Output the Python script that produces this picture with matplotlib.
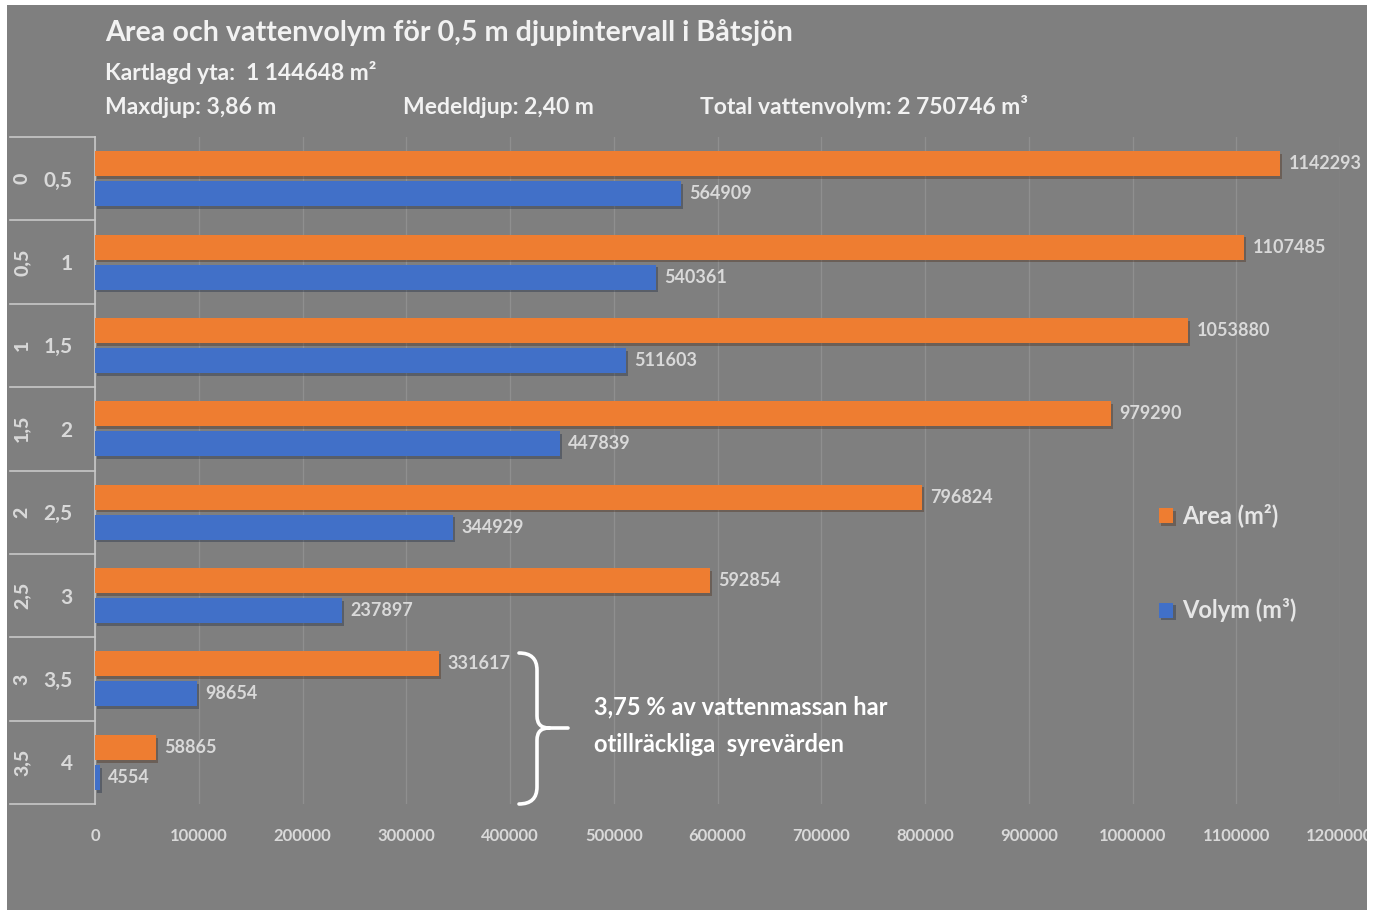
import matplotlib.pyplot as plt
import matplotlib.patheffects as pe
from matplotlib.patches import Rectangle, PathPatch
from matplotlib.path import Path
from matplotlib.lines import Line2D

# data
outer_labels = ['0', '0,5', '1', '1,5', '2', '2,5', '3', '3,5']
inner_labels = ['0,5', '1', '1,5', '2', '2,5', '3', '3,5', '4']
area = [1142293, 1107485, 1053880, 979290, 796824, 592854, 331617, 58865]
volym = [564909, 540361, 511603, 447839, 344929, 237897, 98654, 4554]
xticks = list(range(0, 1200001, 100000))

plt.rcParams['font.family'] = ['Lato', 'DejaVu Sans']

W, H = 1379, 910
BG = '#7f7f7f'
TXT = '#f2f2f2'
LBL = '#d9d9d9'
ORANGE = '#ee7d31'
BLUE = '#4170c8'


def fx(px):
    return px / W


def fy(py):
    return 1 - py / H


fig = plt.figure(figsize=(13.79, 9.10), dpi=100, facecolor='white')
bg = Rectangle((fx(7), 0), fx(1367) - fx(7), fy(5), transform=fig.transFigure,
               facecolor=BG, edgecolor='none', zorder=-5)
fig.patches.append(bg)

ax = fig.add_axes([fx(95), fy(804), fx(1340) - fx(95), (804 - 137) / H])
ax.set_facecolor('none')
ax.set_zorder(2)

idx = list(range(len(area)))
shadow = [pe.SimplePatchShadow(offset=(1.5, -2), alpha=0.35), pe.Normal()]
b1 = ax.barh([i - 0.18 for i in idx], area, height=0.30, color=ORANGE, zorder=3,
             path_effects=shadow, label='Area (m²)')
b2 = ax.barh([i + 0.18 for i in idx], volym, height=0.30, color=BLUE, zorder=3,
             path_effects=shadow, label='Volym (m³)')

ax.bar_label(b1, fmt='{:.0f}', padding=6, color=LBL, fontsize=13, fontweight='bold')
ax.bar_label(b2, fmt='{:.0f}', padding=6, color=LBL, fontsize=13, fontweight='bold')

ax.set_xlim(0, 1200000)
ax.set_ylim(len(area) - 0.5, -0.5)
ax.set_xticks(xticks)
ax.set_xticklabels([str(v) for v in xticks])
ax.grid(axis='x', color='#8f8f8f', lw=0.9, zorder=0)
ax.set_axisbelow(True)
ax.tick_params(axis='x', length=0, pad=17, labelsize=12, labelcolor=LBL)
for lab in ax.get_xticklabels():
    lab.set_fontweight('bold')
    lab.set_clip_path(bg)

ax.set_yticks(idx)
ax.set_yticklabels(inner_labels)
ax.tick_params(axis='y', length=0, pad=16, labelsize=15, labelcolor=LBL)
for lab in ax.get_yticklabels():
    lab.set_fontweight('bold')

for s in ['top', 'right', 'bottom']:
    ax.spines[s].set_visible(False)
ax.spines['left'].set_color('#c8c8c8')
ax.spines['left'].set_linewidth(1.2)

# multi-level category separators and outer labels
tr = ax.get_yaxis_transform()
x0 = (10 - 95) / (1340 - 95)
for i in range(len(area) + 1):
    ax.add_line(Line2D([x0, 0], [i - 0.5, i - 0.5], transform=tr, color='#c8c8c8',
                       lw=1.2, clip_on=False))
xo = (22 - 95) / (1340 - 95)
for i, t in enumerate(outer_labels):
    ax.text(xo, i, t, transform=tr, rotation=90, ha='center', va='center',
            fontsize=14, fontweight='black', color=LBL)

# titles
fig.text(fx(105), fy(32), 'Area och vattenvolym för 0,5 m djupintervall i Båtsjön',
         fontsize=20.6, fontweight='bold', color=TXT, va='center', ha='left')
fig.text(fx(105), fy(72), 'Kartlagd yta:  1 144648 m²', fontsize=16.5, fontweight='bold',
         color=TXT, va='center', ha='left')
fig.text(fx(105), fy(107), 'Maxdjup: 3,86 m', fontsize=16.5, fontweight='bold',
         color=TXT, va='center', ha='left')
fig.text(fx(403), fy(107), 'Medeldjup: 2,40 m', fontsize=16.5, fontweight='bold',
         color=TXT, va='center', ha='left')
fig.text(fx(700), fy(107), 'Total vattenvolym: 2 750746 m³', fontsize=16.5, fontweight='bold',
         color=TXT, va='center', ha='left')

# legend
leg = fig.legend(handles=[b1, b2], loc='center left', bbox_to_anchor=(fx(1138), fy(563)),
                 frameon=False, fontsize=17, labelcolor='#e6e6e6', labelspacing=3.0,
                 handlelength=0.6, handleheight=0.6, handletextpad=0.35)
for t in leg.get_texts():
    t.set_fontweight('bold')

# brace annotation
pts = [(519, 653), (537, 653), (537, 670), (537, 716), (537, 728), (549, 728), (568, 728),
       (549, 728), (537, 728), (537, 740), (537, 787), (537, 804), (519, 804)]
codes = [Path.MOVETO, Path.CURVE3, Path.CURVE3, Path.LINETO, Path.CURVE3, Path.CURVE3,
         Path.LINETO, Path.MOVETO, Path.CURVE3, Path.CURVE3, Path.LINETO, Path.CURVE3,
         Path.CURVE3]
brace = Path([(fx(x), fy(y)) for x, y in pts], codes)
fig.patches.append(PathPatch(brace, transform=fig.transFigure, facecolor='none',
                             edgecolor='white', lw=2.6, capstyle='round', zorder=5))
fig.text(fx(594), fy(707), '3,75 % av vattenmassan har', fontsize=17, fontweight='bold',
         color='white', va='center', ha='left')
fig.text(fx(594), fy(744), 'otillräckliga  syrevärden', fontsize=17, fontweight='bold',
         color='white', va='center', ha='left')

fig.savefig('out.png', dpi=100, facecolor='white')
